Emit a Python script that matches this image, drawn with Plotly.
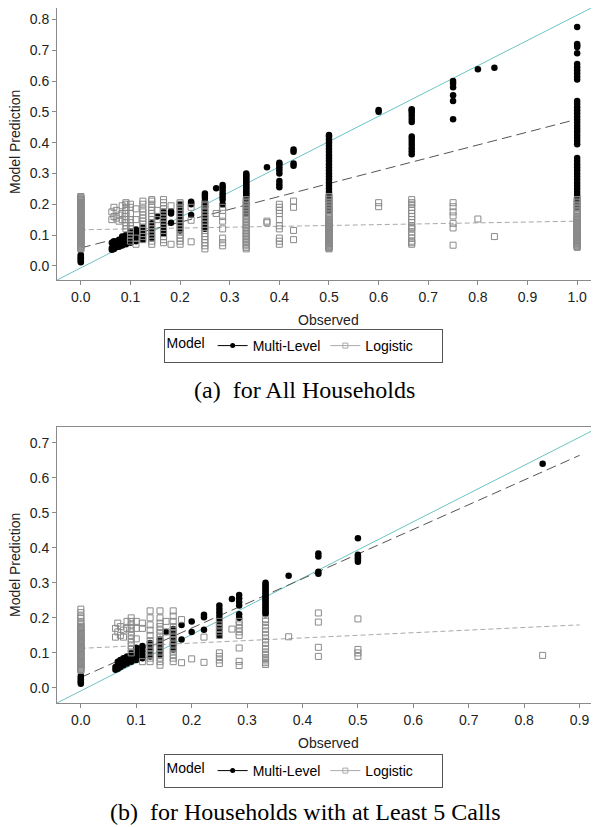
import plotly.graph_objects as go

# ---------------- data: panel (a) all households ----------------
obs_a = [0.0, 0.0625, 0.0667, 0.0714, 0.0769, 0.0833, 0.0909, 0.1, 0.1111, 0.125,
         0.1429, 0.1538, 0.1667, 0.1818, 0.2, 0.2222, 0.25, 0.2727, 0.2857, 0.3333,
         0.375, 0.4, 0.4286, 0.5, 0.6, 0.6667, 0.75, 0.8, 0.8333, 1.0]

ml_a = [
    [0.012, 0.016, 0.02, 0.024, 0.028, 0.032, 0.036],
    [0.052, 0.058, 0.075],
    [0.055, 0.063, 0.08],
    [0.06, 0.068, 0.078],
    [0.062, 0.07, 0.085],
    [0.066, 0.074, 0.088, 0.095],
    [0.07, 0.08, 0.092, 0.1],
    [0.075, 0.085, 0.095, 0.105, 0.112],
    [0.08, 0.09, 0.1, 0.11, 0.118],
    [0.085, 0.095, 0.105, 0.115, 0.125],
    [0.09, 0.1, 0.11, 0.12, 0.13, 0.138],
    [0.16],
    [0.105, 0.115, 0.125, 0.135, 0.145, 0.155, 0.17, 0.175],
    [0.14, 0.17, 0.177],
    [0.115, 0.125, 0.135, 0.145, 0.155, 0.165, 0.175, 0.185, 0.195, 0.2],
    [0.165, 0.2, 0.205, 0.208],
    [0.12, 0.13, 0.14, 0.15, 0.16, 0.17, 0.18, 0.19, 0.2, 0.21, 0.22, 0.228, 0.235],
    [0.252],
    [0.2, 0.215, 0.225, 0.235, 0.245, 0.255, 0.262],
    [0.17, 0.18, 0.19, 0.2, 0.21, 0.22, 0.225, 0.23, 0.235, 0.24, 0.245, 0.25, 0.255,
     0.26, 0.265, 0.27, 0.275, 0.28, 0.285, 0.29, 0.295, 0.3],
    [0.32],
    [0.255, 0.265, 0.275, 0.3, 0.31, 0.32, 0.33, 0.335],
    [0.325, 0.332, 0.37, 0.378],
    [0.18, 0.19, 0.2, 0.21, 0.22, 0.23, 0.24, 0.25, 0.26, 0.27, 0.28, 0.29, 0.3, 0.31,
     0.32, 0.33, 0.34, 0.35, 0.36, 0.37, 0.38, 0.39, 0.4, 0.41, 0.42, 0.425],
    [0.5, 0.506],
    [0.362, 0.372, 0.382, 0.392, 0.402, 0.412, 0.42, 0.467, 0.477, 0.487, 0.497, 0.505, 0.508],
    [0.476, 0.535, 0.554, 0.58, 0.592, 0.6],
    [0.638],
    [0.643],
    [0.19, 0.2, 0.21, 0.22, 0.23, 0.24, 0.25, 0.26, 0.27, 0.28, 0.29, 0.3, 0.31, 0.32,
     0.33, 0.34, 0.35, 0.395, 0.405, 0.415, 0.425, 0.435, 0.445, 0.455, 0.465, 0.475,
     0.485, 0.495, 0.505, 0.515, 0.525, 0.535, 0.605, 0.615, 0.625, 0.635, 0.645, 0.655,
     0.69, 0.71, 0.715, 0.72, 0.775],
]

lg_a = [
    [0.055, 0.0575, 0.06, 0.0625, 0.065, 0.0675, 0.07, 0.0725, 0.075, 0.0775, 0.08,
     0.0825, 0.085, 0.0875, 0.09, 0.0925, 0.095, 0.0975, 0.1, 0.1025, 0.105, 0.1075,
     0.11, 0.1125, 0.115, 0.1175, 0.12, 0.1225, 0.125, 0.1275, 0.13, 0.1325, 0.135,
     0.1375, 0.14, 0.1425, 0.145, 0.1475, 0.15, 0.1525, 0.155, 0.1575, 0.16, 0.1625,
     0.165, 0.1675, 0.17, 0.1725, 0.175, 0.1775, 0.18, 0.1825, 0.185, 0.1875, 0.19,
     0.1925, 0.195, 0.1975, 0.2, 0.2025, 0.205, 0.2075, 0.21, 0.2125, 0.215, 0.2175,
     0.22, 0.2225, 0.225],
    [0.15, 0.175],
    [0.16, 0.19],
    [0.155, 0.18],
    [0.145, 0.165],
    [0.15, 0.17, 0.195],
    [0.12, 0.13, 0.14, 0.15, 0.16, 0.17, 0.18, 0.19, 0.2, 0.205],
    [0.08, 0.09, 0.1, 0.11, 0.12, 0.13, 0.14, 0.15, 0.17, 0.19, 0.2],
    [0.07, 0.09, 0.15, 0.185],
    [0.085, 0.095, 0.105, 0.115, 0.125, 0.135, 0.145, 0.155, 0.165, 0.175, 0.185, 0.2, 0.21],
    [0.07, 0.08, 0.09, 0.1, 0.11, 0.12, 0.13, 0.14, 0.15, 0.16, 0.17, 0.18, 0.19, 0.2,
     0.21, 0.215],
    [0.15, 0.18],
    [0.075, 0.085, 0.095, 0.105, 0.115, 0.125, 0.135, 0.145, 0.155, 0.165, 0.175, 0.185,
     0.195, 0.205, 0.215],
    [0.07, 0.195],
    [0.07, 0.08, 0.09, 0.1, 0.11, 0.12, 0.13, 0.14, 0.15, 0.16, 0.17, 0.18, 0.19, 0.2, 0.205],
    [0.078, 0.148, 0.19],
    [0.055, 0.065, 0.075, 0.085, 0.095, 0.105, 0.115, 0.125, 0.135, 0.145, 0.155, 0.165,
     0.175, 0.185, 0.195, 0.2],
    [0.17],
    [0.065, 0.075, 0.09, 0.12, 0.145, 0.16, 0.18, 0.19],
    [0.055, 0.06, 0.065, 0.07, 0.075, 0.08, 0.085, 0.09, 0.095, 0.1, 0.105, 0.11, 0.115,
     0.12, 0.125, 0.13, 0.135, 0.14, 0.145, 0.15, 0.155, 0.16, 0.165, 0.17, 0.175, 0.18,
     0.185, 0.19, 0.195, 0.2, 0.205, 0.21, 0.215],
    [0.14, 0.145],
    [0.07, 0.08, 0.09, 0.12, 0.13, 0.15, 0.17, 0.18, 0.19, 0.2],
    [0.085, 0.115, 0.19, 0.21],
    [0.055, 0.0575, 0.06, 0.0625, 0.065, 0.0675, 0.07, 0.0725, 0.075, 0.0775, 0.08,
     0.0825, 0.085, 0.0875, 0.09, 0.0925, 0.095, 0.0975, 0.1, 0.1025, 0.105, 0.1075,
     0.11, 0.1125, 0.115, 0.1175, 0.12, 0.1225, 0.125, 0.1275, 0.13, 0.1325, 0.135,
     0.1375, 0.14, 0.1425, 0.145, 0.1475, 0.15, 0.155, 0.16, 0.165, 0.17, 0.175, 0.18,
     0.185, 0.19, 0.195, 0.2, 0.205, 0.21, 0.215, 0.22, 0.225],
    [0.192, 0.205],
    [0.07, 0.075, 0.08, 0.09, 0.1, 0.11, 0.12, 0.125, 0.13, 0.14, 0.15, 0.16, 0.17, 0.18,
     0.19, 0.2, 0.205, 0.215],
    [0.067, 0.123, 0.138, 0.162, 0.175, 0.192, 0.205],
    [0.152],
    [0.095],
    [0.06, 0.0625, 0.065, 0.0675, 0.07, 0.0725, 0.075, 0.0775, 0.08, 0.0825, 0.085,
     0.0875, 0.09, 0.0925, 0.095, 0.0975, 0.1, 0.1025, 0.105, 0.1075, 0.11, 0.1125,
     0.115, 0.1175, 0.12, 0.1225, 0.125, 0.1275, 0.13, 0.1325, 0.135, 0.1375, 0.14,
     0.1425, 0.145, 0.1475, 0.15, 0.1525, 0.155, 0.1575, 0.16, 0.165, 0.17, 0.175,
     0.18, 0.185, 0.19, 0.195, 0.2, 0.205, 0.21, 0.215],
]

# ---------------- data: panel (b) households with >= 5 calls ----------------
obs_b = [0.0, 0.0625, 0.0667, 0.0714, 0.0769, 0.0833, 0.0909, 0.1, 0.1111, 0.125,
         0.1429, 0.1538, 0.1667, 0.1818, 0.2, 0.2222, 0.25, 0.2727, 0.2857, 0.3333,
         0.375, 0.4286, 0.5, 0.8333]

ml_b = [
    [0.012, 0.016, 0.02, 0.025, 0.03, 0.035],
    [0.052, 0.06],
    [0.055, 0.065, 0.075],
    [0.06, 0.07, 0.08],
    [0.065, 0.075, 0.085],
    [0.07, 0.08, 0.09],
    [0.075, 0.085, 0.095, 0.1],
    [0.08, 0.09, 0.1, 0.11, 0.115],
    [0.085, 0.095, 0.105, 0.115, 0.12],
    [0.09, 0.1, 0.11, 0.12, 0.128],
    [0.095, 0.105, 0.115, 0.125, 0.135, 0.14],
    [0.16],
    [0.11, 0.12, 0.13, 0.14, 0.15, 0.16, 0.168],
    [0.138, 0.18],
    [0.16, 0.19],
    [0.166, 0.202, 0.209],
    [0.15, 0.165, 0.18, 0.195, 0.205, 0.215, 0.225, 0.235],
    [0.254],
    [0.2, 0.21, 0.235, 0.245, 0.255, 0.265],
    [0.21, 0.215, 0.22, 0.225, 0.23, 0.235, 0.24, 0.245, 0.25, 0.255, 0.26, 0.265, 0.27,
     0.275, 0.28, 0.285, 0.29, 0.295, 0.3],
    [0.32],
    [0.326, 0.332, 0.375, 0.384],
    [0.36, 0.365, 0.37, 0.375, 0.38, 0.427],
    [0.64],
]

lg_b = [
    [0.05, 0.0525, 0.055, 0.0575, 0.06, 0.0625, 0.065, 0.0675, 0.07, 0.0725, 0.075,
     0.0775, 0.08, 0.0825, 0.085, 0.0875, 0.09, 0.0925, 0.095, 0.0975, 0.1, 0.1025,
     0.105, 0.1075, 0.11, 0.1125, 0.115, 0.1175, 0.12, 0.1225, 0.125, 0.1275, 0.13,
     0.1325, 0.135, 0.1375, 0.14, 0.1425, 0.145, 0.1475, 0.15, 0.1525, 0.155, 0.1575,
     0.16, 0.1625, 0.165, 0.1675, 0.17, 0.1725, 0.175, 0.18, 0.185, 0.19, 0.2, 0.205,
     0.215, 0.225],
    [0.145, 0.17],
    [0.16, 0.185],
    [0.15, 0.175],
    [0.145, 0.165],
    [0.17, 0.19],
    [0.1, 0.11, 0.12, 0.13, 0.14, 0.15, 0.16, 0.17, 0.18, 0.19, 0.2],
    [0.14, 0.17, 0.19],
    [0.075, 0.17, 0.185],
    [0.075, 0.085, 0.095, 0.105, 0.115, 0.125, 0.135, 0.15, 0.165, 0.18, 0.2, 0.22],
    [0.065, 0.075, 0.085, 0.095, 0.105, 0.115, 0.125, 0.135, 0.145, 0.155, 0.165, 0.175,
     0.185, 0.2, 0.22],
    [0.16, 0.19],
    [0.075, 0.085, 0.095, 0.105, 0.115, 0.125, 0.135, 0.145, 0.155, 0.165, 0.175, 0.19,
     0.205, 0.22],
    [0.072, 0.195],
    [0.083],
    [0.073, 0.145],
    [0.07, 0.08, 0.09, 0.1, 0.15, 0.16, 0.17, 0.18, 0.19],
    [0.168],
    [0.064, 0.076, 0.114, 0.15, 0.16, 0.17, 0.18, 0.19],
    [0.067, 0.072, 0.077, 0.082, 0.087, 0.095, 0.1, 0.11, 0.12, 0.13, 0.14, 0.15, 0.16,
     0.17, 0.18, 0.19, 0.195],
    [0.146],
    [0.09, 0.116, 0.188, 0.214],
    [0.09, 0.1, 0.11, 0.197],
    [0.093],
]

# fitted lines and reference diagonals
fit_a_x = [0.0, 1.0]
fit_ml_a = [0.058, 0.476]
fit_lg_a = [0.117, 0.145]
fit_b_x = [0.0, 0.9]
fit_ml_b = [0.03, 0.664]
fit_lg_b = [0.113, 0.18]
diag_a_x = [-0.048, 1.044]
diag_a_y = [-0.046, 0.85]
diag_b_x = [-0.043, 0.935]
diag_b_y = [-0.043, 0.744]

range_a_x = [-0.048, 1.044]
range_a_y = [-0.046, 0.837]
range_b_x = [-0.043, 0.935]
range_b_y = [-0.043, 0.744]

xticks_a = [0.0, 0.1, 0.2, 0.3, 0.4, 0.5, 0.6, 0.7, 0.8, 0.9, 1.0]
yticks_a = [0.0, 0.1, 0.2, 0.3, 0.4, 0.5, 0.6, 0.7, 0.8]
xticks_b = [0.0, 0.1, 0.2, 0.3, 0.4, 0.5, 0.6, 0.7, 0.8, 0.9]
yticks_b = [0.0, 0.1, 0.2, 0.3, 0.4, 0.5, 0.6, 0.7]

caption_a = "(a)\u00a0 for All Households"
caption_b = "(b)\u00a0 for Households with at Least 5 Calls"
legend_title = "Model"
name_ml = "Multi-Level"
name_lg = "Logistic\u00a0\u00a0\u00a0\u00a0\u00a0\u00a0"


def expand(obs, cols):
    xs, ys = [], []
    for xv, col in zip(obs, cols):
        for yv in col:
            xs.append(xv)
            ys.append(yv)
    return xs, ys


SANS = "Liberation Sans, Arial, sans-serif"
SERIF = "Liberation Serif, Times New Roman, serif"
TEAL = "#6cc3c3"
ML_COLOR = "black"
LG_COLOR = "#8a8a8a"

fig = go.Figure()

panels = [
    ("x", "y", obs_a, ml_a, lg_a, fit_a_x, fit_ml_a, fit_lg_a, diag_a_x, diag_a_y, "legend"),
    ("x2", "y2", obs_b, ml_b, lg_b, fit_b_x, fit_ml_b, fit_lg_b, diag_b_x, diag_b_y, "legend2"),
]

for xa, ya, obs, ml, lg, fx, fml, flg, dx, dy, leg in panels:
    fig.add_trace(go.Scatter(x=dx, y=dy, mode="lines", xaxis=xa, yaxis=ya,
                             line=dict(color=TEAL, width=1), showlegend=False,
                             hoverinfo="skip"))
    fig.add_trace(go.Scatter(x=fx, y=fml, mode="lines", xaxis=xa, yaxis=ya,
                             line=dict(color="#555555", width=1, dash="10px,5px"),
                             showlegend=False, hoverinfo="skip"))
    fig.add_trace(go.Scatter(x=fx, y=flg, mode="lines", xaxis=xa, yaxis=ya,
                             line=dict(color="#aaaaaa", width=1, dash="5px,3px"),
                             showlegend=False, hoverinfo="skip"))
    mx, my = expand(obs, ml)
    fig.add_trace(go.Scatter(x=mx, y=my, mode="markers", xaxis=xa, yaxis=ya,
                             marker=dict(symbol="circle", size=6.5, color=ML_COLOR,
                                         line=dict(width=0)),
                             name=name_ml, showlegend=False))
    lx, ly = expand(obs, lg)
    fig.add_trace(go.Scatter(x=lx, y=ly, mode="markers", xaxis=xa, yaxis=ya,
                             marker=dict(symbol="square-open", size=6, color=LG_COLOR,
                                         line=dict(width=1, color=LG_COLOR)),
                             name=name_lg, showlegend=False))
    # legend keys
    fig.add_trace(go.Scatter(x=[None], y=[None], mode="lines+markers", xaxis=xa, yaxis=ya,
                             marker=dict(symbol="circle", size=5, color=ML_COLOR),
                             line=dict(color=ML_COLOR, width=1),
                             name=name_ml, legend=leg, showlegend=True))
    fig.add_trace(go.Scatter(x=[None], y=[None], mode="lines+markers", xaxis=xa, yaxis=ya,
                             marker=dict(symbol="square-open", size=5, color="#aaaaaa"),
                             line=dict(color="#aaaaaa", width=1),
                             name=name_lg, legend=leg, showlegend=True))

# the page body adds an 8px margin; target pixel positions are given in window pixels
OFF = 8
W, H = 599 - OFF, 827 - OFF


def px(p):
    return (p - OFF) / W


def py(p):
    return 1 - (p - OFF) / H


axis_common = dict(showgrid=False, zeroline=False, showline=True, linecolor="#8a8a8a",
                   linewidth=1, ticks="outside", ticklen=4, tickcolor="#8a8a8a",
                   tickwidth=1, tickformat=".1f",
                   tickfont=dict(family=SANS, size=14, color="#222222"))

legend_common = dict(orientation="h", xanchor="center", yanchor="middle",
                     bordercolor="#555555", borderwidth=1, bgcolor="white",
                     font=dict(family=SANS, size=14, color="black"),
                     title=dict(text=legend_title, side="left",
                                font=dict(family=SANS, size=14, color="black")))

fig.update_layout(
    width=W, height=H, margin=dict(l=0, r=0, t=0, b=0),
    paper_bgcolor="white", plot_bgcolor="white",
    xaxis=dict(domain=[px(57), 1.0], range=range_a_x, anchor="y", tickvals=xticks_a,
               mirror=True, **axis_common),
    yaxis=dict(domain=[py(280), 1.0], range=range_a_y, anchor="x", tickvals=yticks_a,
               **axis_common),
    xaxis2=dict(domain=[px(57), 1.0], range=range_b_x, anchor="y2", tickvals=xticks_b,
                mirror=True, **axis_common),
    yaxis2=dict(domain=[py(703), py(427.3)], range=range_b_y, anchor="x2",
                tickvals=yticks_b, **axis_common),
    legend=dict(x=px(303), y=py(346), **legend_common),
    legend2=dict(x=px(303), y=py(771), **legend_common),
    showlegend=True,
)


def note(text, x, y, size, family, angle=0, color="#222222"):
    return dict(text=text, x=px(x), y=py(y), xref="paper", yref="paper",
                xanchor="center", yanchor="middle", showarrow=False, textangle=angle,
                font=dict(family=family, size=size, color=color))


annots = [
    note("Observed", 328, 320, 14, SANS),
    note("Observed", 328, 743, 14, SANS),
    note("Model Prediction", 15, 142, 14, SANS, angle=-90),
    note("Model Prediction", 15, 565, 14, SANS, angle=-90),
    note(caption_a, 304, 390, 24, SERIF, color="black"),
    note(caption_b, 305, 812, 24, SERIF, color="black"),
]
fig.update_layout(annotations=annots)

fig.write_html("out.html")
